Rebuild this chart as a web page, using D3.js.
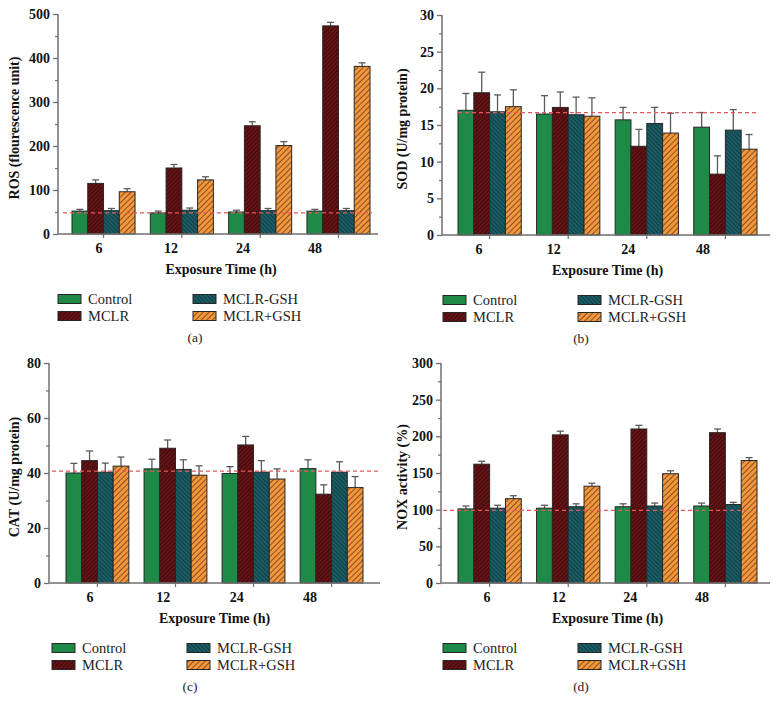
<!DOCTYPE html>
<html>
<head>
<meta charset="utf-8">
<script src="https://cdn.jsdelivr.net/npm/d3@7"></script>
<style>
  html, body { margin: 0; padding: 0; background: #fff; }
  svg { display: block; }
  svg text { font-family: "Liberation Serif", "DejaVu Serif", serif; }
</style>
</head>
<body>
<svg id="chart" width="779" height="713"></svg>
<script>
// ---------------- DATA ----------------
const categories = ["6", "12", "24", "48"];
const seriesNames = ["Control", "MCLR", "MCLR-GSH", "MCLR+GSH"];

// (a) ROS
const rosMeans = [[52, 48, 50, 52], [115, 150, 246, 473], [53, 54, 53, 53], [96, 123, 201, 381]];
const rosErrors = [[4, 4, 4, 4], [8, 8, 9, 8], [5, 5, 5, 5], [7, 7, 9, 8]];
const rosRef = 48;
const rosTicks = [0, 100, 200, 300, 400, 500];

// (b) SOD
const sodMeans = [[17.0, 16.5, 15.7, 14.7], [19.4, 17.4, 12.1, 8.3], [16.8, 16.4, 15.2, 14.3], [17.5, 16.2, 13.9, 11.7]];
const sodErrors = [[2.3, 2.5, 1.7, 2.0], [2.8, 2.1, 2.3, 2.5], [2.3, 2.4, 2.2, 2.8], [2.3, 2.5, 2.7, 2.0]];
const sodRef = 16.7;
const sodTicks = [0, 5, 10, 15, 20, 25, 30];

// (c) CAT
const catMeans = [[40.0, 41.5, 39.8, 41.6], [44.5, 49.0, 50.2, 32.3], [40.3, 41.3, 40.3, 40.3], [42.5, 39.2, 37.8, 34.7]];
const catErrors = [[3.5, 3.5, 2.5, 3.2], [3.5, 3.0, 3.1, 3.4], [3.3, 3.5, 4.2, 3.8], [3.3, 3.4, 3.7, 4.0]];
const catRef = 40.7;
const catTicks = [0, 20, 40, 60, 80];

// (d) NOX
const noxMeans = [[101, 102, 104, 105], [162, 202, 210, 205], [102, 104, 105, 107], [115, 132, 149, 167]];
const noxErrors = [[4, 4, 4, 4], [4, 5, 5, 5], [4, 4, 4, 3], [4, 4, 4, 4]];
const noxRef = 99;
const noxTicks = [0, 50, 100, 150, 200, 250, 300];

// ---------------- STYLE ----------------
const SERIF = '"Liberation Serif", "DejaVu Serif", serif';
const fills = ["#1f8a47", "url(#pMCLR)", "url(#pGSHm)", "url(#pGSHp)"];
const axisColor = "#6f6f6f";

const svg = d3.select("#chart");
const defs = svg.append("defs");

function hatch(id, bg, line, spacing, dir, sw) {
  const p = defs.append("pattern")
    .attr("id", id).attr("patternUnits", "userSpaceOnUse")
    .attr("width", spacing).attr("height", spacing)
    .attr("patternTransform", `rotate(${dir})`);
  p.append("rect").attr("width", spacing).attr("height", spacing).attr("fill", bg);
  p.append("line").attr("x1", 0).attr("y1", 0).attr("x2", 0).attr("y2", spacing)
    .attr("stroke", line).attr("stroke-width", sw);
}
hatch("pMCLR", "#661315", "#160404", 3, 45, 1.1);
hatch("pGSHm", "#1b5d65", "#0a2428", 3, -45, 1.1);
hatch("pGSHp", "#f4973c", "#3a2010", 4, 45, 1.2);

// ---------------- PANELS ----------------
const panels = [
  { means: rosMeans, errs: rosErrors, ref: rosRef, ticks: rosTicks, minorStep: 50,
    title: "ROS (flourescence unit)", cap: "(a)",
    ax: 58, top: 14, bottom: 234, b0: 72, b1: 370, axEnd: 378, lab0: 99, lab1: 315,
    ref0: 63, ref1: 372, titleX: 16, legX: 58, legX2: 193, capX: 195 },
  { means: sodMeans, errs: sodErrors, ref: sodRef, ticks: sodTicks, minorStep: 2.5,
    title: "SOD (U/mg protein)", cap: "(b)",
    ax: 442, top: 15, bottom: 235, b0: 458, b1: 757, axEnd: 770, lab0: 479, lab1: 703,
    ref0: 458, ref1: 757, titleX: 404, legX: 443, legX2: 578, capX: 581 },
  { means: catMeans, errs: catErrors, ref: catRef, ticks: catTicks, minorStep: 10,
    title: "CAT (U/mg protein)", cap: "(c)",
    ax: 49, top: 363, bottom: 583, b0: 66, b1: 363, axEnd: 380, lab0: 90, lab1: 310,
    ref0: 52, ref1: 380, titleX: 16, legX: 52, legX2: 187, capX: 190 },
  { means: noxMeans, errs: noxErrors, ref: noxRef, ticks: noxTicks, minorStep: 25,
    title: "NOX activity (%)", cap: "(d)",
    ax: 441, top: 363, bottom: 583, b0: 458, b1: 757, axEnd: 770, lab0: 487, lab1: 702,
    ref0: 443, ref1: 745, titleX: 404, legX: 443, legX2: 578, capX: 581 }
];

panels.forEach(P => {
  const g = svg.append("g");
  const yMax = P.ticks[P.ticks.length - 1];
  const y = d3.scaleLinear().domain([0, yMax]).range([P.bottom, P.top]);
  const x0 = d3.scaleBand().domain(categories).range([P.b0, P.b1]).paddingInner(0.195).paddingOuter(0);
  const x1 = d3.scaleBand().domain(seriesNames).range([0, x0.bandwidth()]);
  const xl = d3.scalePoint().domain(categories).range([P.lab0, P.lab1]);

  const rows = [];
  seriesNames.forEach((s, si) => categories.forEach((c, ci) => rows.push({ s, si, c, v: P.means[si][ci], e: P.errs[si][ci] })));

  // error bars
  const eb = g.append("g").attr("stroke", "#5a5a5a").attr("stroke-width", 1.3);
  rows.forEach(d => {
    const cx = x0(d.c) + x1(d.s) + x1.bandwidth() / 2;
    eb.append("line").attr("x1", cx).attr("x2", cx).attr("y1", y(d.v)).attr("y2", y(d.v + d.e));
    eb.append("line").attr("x1", cx - 3.5).attr("x2", cx + 3.5).attr("y1", y(d.v + d.e)).attr("y2", y(d.v + d.e));
  });

  // bars
  g.append("g").selectAll("rect").data(rows).join("rect")
    .attr("x", d => x0(d.c) + x1(d.s))
    .attr("y", d => y(d.v))
    .attr("width", x1.bandwidth())
    .attr("height", d => y(0) - y(d.v))
    .attr("fill", d => fills[d.si])
    .attr("stroke", "#262626").attr("stroke-width", 1);

  // reference line
  g.append("line").attr("x1", P.ref0).attr("x2", P.ref1).attr("y1", y(P.ref)).attr("y2", y(P.ref))
    .attr("stroke", "#e4585c").attr("stroke-width", 1.3).attr("stroke-dasharray", "4,3");

  // y axis
  const minor = d3.range(P.minorStep, yMax, P.minorStep).filter(v => !P.ticks.some(t => Math.abs(t - v) < 1e-9));
  const yAxis = g.append("g").attr("transform", `translate(${P.ax},0)`)
    .call(d3.axisLeft(y).tickValues(P.ticks).tickSize(5).tickPadding(3).tickFormat(d3.format("d")));
  yAxis.attr("font-family", null).attr("font-size", null);
  yAxis.select(".domain").attr("stroke", axisColor).attr("stroke-width", 1.5).attr("d", `M0,${P.top}V${P.bottom}`);
  yAxis.selectAll(".tick line").attr("stroke", axisColor).attr("stroke-width", 1.3);
  yAxis.selectAll(".tick text").style("font-family", SERIF).style("font-weight", "bold")
    .style("font-size", "14px").attr("fill", "#111");
  const yMinor = g.append("g").attr("transform", `translate(${P.ax},0)`)
    .call(d3.axisLeft(y).tickValues(minor).tickSize(3).tickFormat(""));
  yMinor.select(".domain").remove();
  yMinor.selectAll(".tick line").attr("stroke", axisColor).attr("stroke-width", 1.2);

  // x axis
  g.append("line").attr("x1", P.ax).attr("x2", P.axEnd).attr("y1", P.bottom).attr("y2", P.bottom)
    .attr("stroke", axisColor).attr("stroke-width", 1.5);
  g.append("g").selectAll("line").data(categories).join("line")
    .attr("x1", d => x0(d) + x0.bandwidth() / 2).attr("x2", d => x0(d) + x0.bandwidth() / 2)
    .attr("y1", P.bottom).attr("y2", P.bottom + 4)
    .attr("stroke", axisColor).attr("stroke-width", 1.2);
  g.append("g").selectAll("text").data(categories).join("text")
    .attr("x", d => xl(d)).attr("y", P.bottom + 19)
    .attr("text-anchor", "middle")
    .style("font-family", SERIF).style("font-weight", "bold").style("font-size", "14px")
    .attr("fill", "#111").text(d => d);

  // axis titles
  g.append("text").attr("x", (P.b0 + P.b1) / 2).attr("y", P.bottom + 40)
    .attr("text-anchor", "middle")
    .style("font-family", SERIF).style("font-weight", "bold").style("font-size", "14px")
    .attr("fill", "#111").text("Exposure Time (h)");
  g.append("text").attr("transform", `translate(${P.titleX},${(P.top + P.bottom) / 2 + 4}) rotate(-90)`)
    .attr("text-anchor", "middle").attr("dominant-baseline", "middle")
    .style("font-family", SERIF).style("font-weight", "bold").style("font-size", "14px")
    .attr("fill", "#111").text(P.title);

  // legend
  const legPos = [[P.legX, P.bottom + 65], [P.legX, P.bottom + 82], [P.legX2, P.bottom + 65], [P.legX2, P.bottom + 82]];
  seriesNames.forEach((s, si) => {
    const [lx, ly] = legPos[si];
    g.append("rect").attr("x", lx).attr("y", ly - 4.5).attr("width", 23).attr("height", 9)
      .attr("fill", fills[si]).attr("stroke", "#262626").attr("stroke-width", 1);
    g.append("text").attr("x", lx + 30).attr("y", ly + 4.5)
      .style("font-family", SERIF).style("font-size", "14.5px")
      .attr("fill", "#222").text(s);
  });

  // caption
  g.append("text").attr("x", P.capX).attr("y", P.bottom + 108)
    .attr("text-anchor", "middle")
    .style("font-family", SERIF).style("font-size", "13.5px")
    .attr("fill", "#222").text(P.cap);
});
</script>
</body>
</html>
